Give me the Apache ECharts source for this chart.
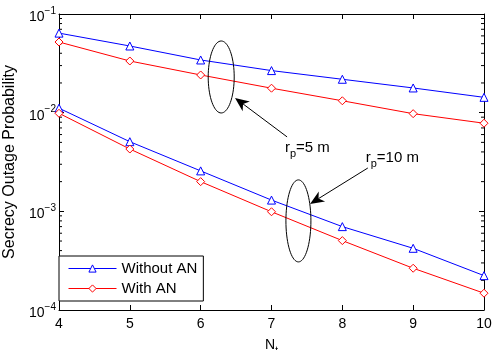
<!DOCTYPE html>
<html>
<head>
<meta charset="utf-8">
<script src="https://cdn.jsdelivr.net/npm/echarts@6/dist/echarts.min.js"></script>
<style>html,body{margin:0;padding:0;background:#fff}#chart{width:492px;height:350px}</style>
</head>
<body>
<div id="chart"></div>
<script>
let nt = [4, 5, 6, 7, 8, 9, 10];
let withoutAN5 = [0.064, 0.0474, 0.0342, 0.0267, 0.0218, 0.0178, 0.0143];
let withAN5 = [0.052, 0.0334, 0.0241, 0.0177, 0.0132, 0.00977, 0.00782];
let withoutAN10 = [0.0111, 0.00508, 0.00257, 0.0013, 0.0007, 0.000422, 0.000223];
let withAN10 = [0.00986, 0.00428, 0.0020, 0.00099, 0.000505, 0.000265, 0.000148];
let decades = [0.0001, 0.001, 0.01];
let minorSteps = [2, 3, 4, 5, 6, 7, 8, 9];

let FONT = 'Liberation Sans, Arial, Helvetica, sans-serif';
let myChart = echarts.init(document.getElementById('chart'));

let minorTicks = [];
decades.forEach(d => {
	minorSteps.forEach(m => minorTicks.push([4, d * m]));
});

function lineSeries(name, values, color, symbol) {
	return {
		name: name,
		type: 'line',
		data: nt.map((x, i) => [x, values[i]]),
		symbol: symbol,
		symbolSize: 8,
		lineStyle: { color: color, width: 1 },
		itemStyle: { color: '#fff', borderColor: color, borderWidth: 1 },
		emphasis: { disabled: true },
		z: 4
	};
}

function logLabel(v) {
	let e = Math.round(Math.log10(v));
	return '{b|10}{s|' + (e < 0 ? '\u2212' : '') + Math.abs(e) + '}';
}

let labelRich = {
	b: { fontSize: 14, fontFamily: FONT, color: '#000', padding: [6, 0, 0, 0] },
	s: { fontSize: 10, fontFamily: FONT, color: '#000', padding: [0, 0, 6, 0] }
};

let option = {
	animation: false,
	backgroundColor: '#fff',
	textStyle: { fontFamily: FONT },
	grid: { left: 59, right: 8, top: 14, bottom: 40, outerBoundsMode: 'none', containLabel: false },
	legend: {
		data: ['Without AN', 'With AN'],
		orient: 'vertical',
		left: 59, top: 256,
		padding: [5, 6, 5, 9],
		itemWidth: 48, itemHeight: 9, itemGap: 5,
		borderColor: '#000', borderWidth: 1, borderRadius: 0,
		backgroundColor: '#fff',
		lineStyle: { width: 1 },
		itemStyle: { borderWidth: 1 },
		textStyle: { fontSize: 15, color: '#000', fontFamily: FONT },
		z: 10
	},
	xAxis: [
		{
			type: 'value', min: 4, max: 10, interval: 1, position: 'bottom',
			name: '{n|N}{t|t}', nameLocation: 'middle', nameGap: 24,
			nameTextStyle: {
				rich: {
					n: { fontSize: 14, fontFamily: FONT, color: '#000' },
					t: { fontSize: 10, fontFamily: FONT, color: '#000', padding: [12, 0, 0, 0] }
				}
			},
			axisLine: { onZero: false, lineStyle: { color: '#000', width: 1 } },
			axisTick: { inside: true, length: 5, lineStyle: { color: '#000' } },
			axisLabel: { color: '#000', fontSize: 14, margin: 7, fontFamily: FONT },
			splitLine: { show: false }
		},
		{
			type: 'value', min: 4, max: 10, interval: 1, position: 'top',
			axisLine: { onZero: false, lineStyle: { color: '#000', width: 1 } },
			axisTick: { inside: true, length: 5, lineStyle: { color: '#000' } },
			axisLabel: { show: false },
			splitLine: { show: false }
		}
	],
	yAxis: [
		{
			type: 'log', logBase: 10, min: 0.0001, max: 0.1, splitNumber: 3, position: 'left',
			name: 'Secrecy Outage Probability', nameLocation: 'middle', nameGap: 41,
			nameTextStyle: { fontSize: 16, color: '#000', fontFamily: FONT },
			axisLine: { onZero: false, lineStyle: { color: '#000', width: 1 } },
			axisTick: { inside: true, length: 5, lineStyle: { color: '#000' } },
			axisLabel: { formatter: logLabel, rich: labelRich, margin: 3 },
			splitLine: { show: false }
		},
		{
			type: 'log', logBase: 10, min: 0.0001, max: 0.1, splitNumber: 3, position: 'right',
			axisLine: { onZero: false, lineStyle: { color: '#000', width: 1 } },
			axisTick: { inside: true, length: 5, lineStyle: { color: '#000' } },
			axisLabel: { show: false },
			splitLine: { show: false }
		}
	],
	series: [
		lineSeries('Without AN', withoutAN5, '#0000ff', 'triangle'),
		lineSeries('With AN', withAN5, '#ff0000', 'diamond'),
		lineSeries('Without AN', withoutAN10, '#0000ff', 'triangle'),
		lineSeries('With AN', withAN10, '#ff0000', 'diamond'),
		{
			type: 'custom',
			silent: true,
			data: minorTicks,
			renderItem: function (params, api) {
				let l = api.coord([4, api.value(1)]);
				let r = api.coord([10, api.value(1)]);
				return {
					type: 'group',
					children: [
						{ type: 'line', shape: { x1: l[0], y1: l[1], x2: l[0] + 3, y2: l[1] }, style: { stroke: '#000', lineWidth: 1 } },
						{ type: 'line', shape: { x1: r[0], y1: r[1], x2: r[0] - 3, y2: r[1] }, style: { stroke: '#000', lineWidth: 1 } }
					]
				};
			},
			z: 3
		}
	]
};

myChart.setOption(option);

// annotations anchored in data space
function px(x, y) {
	return myChart.convertToPixel({ seriesIndex: 0 }, [x, y]);
}

function ellipse(c, rx, ry) {
	let pts = [];
	for (let i = 0; i < 72; i++) {
		let a = i / 72 * Math.PI * 2;
		pts.push([c[0] + rx * Math.cos(a), c[1] + ry * Math.sin(a)]);
	}
	return { type: 'polygon', shape: { points: pts }, style: { fill: null, stroke: '#000', lineWidth: 1 }, z: 5 };
}

function arrow(p0, p1) {
	let dx = p1[0] - p0[0], dy = p1[1] - p0[1];
	let len = Math.hypot(dx, dy);
	let ux = dx / len, uy = dy / len, nx = -uy, ny = ux;
	let head = 14, half = 6, notch = 10;
	let bx = p1[0] - ux * head, by = p1[1] - uy * head;
	let back = [p1[0] - ux * notch, p1[1] - uy * notch];
	return [
		{ type: 'line', shape: { x1: p0[0], y1: p0[1], x2: back[0], y2: back[1] }, style: { stroke: '#000', lineWidth: 1 }, z: 5 },
		{ type: 'polygon', shape: { points: [p1, [bx + nx * half, by + ny * half], back, [bx - nx * half, by - ny * half]] }, style: { fill: '#000' }, z: 5 }
	];
}

function label(p, txt) {
	return {
		type: 'text', x: p[0], y: p[1], z: 5,
		style: {
			text: '{a|r}{s|p}{a|' + txt + '}',
			verticalAlign: 'middle',
			rich: {
				a: { fontSize: 15, fontFamily: FONT, fill: '#000' },
				s: { fontSize: 11, fontFamily: FONT, fill: '#000', padding: [12, 0, 0, 0] }
			}
		}
	};
}

let graphics = [];
graphics.push(ellipse(px(6.29, 0.023), 13, 36));
graphics.push(ellipse(px(7.38, 0.0008), 12.5, 41));
graphics = graphics.concat(arrow(px(7.22, 0.00568), px(6.485, 0.0141)));
graphics = graphics.concat(arrow(px(8.36, 0.00275), px(7.544, 0.00119)));
graphics.push(label(px(7.19, 0.00438), '=5 m'));
graphics.push(label(px(8.33, 0.00351), '=10 m'));

myChart.setOption({ graphic: graphics });
</script>
</body>
</html>
